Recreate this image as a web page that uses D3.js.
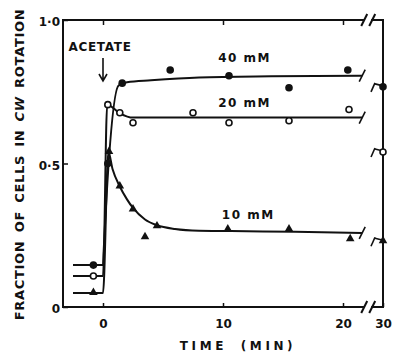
<!DOCTYPE html>
<html>
<head>
<meta charset="utf-8">
<script src="https://cdn.jsdelivr.net/npm/d3@7"></script>
<style>
  body { margin: 0; background: #fff; }
  svg { display: block; }
  text { font-family: "DejaVu Sans", "Liberation Sans", sans-serif; font-weight: bold; fill: #111; }
  .frame, .mark, .fit { stroke: #111; fill: none; }
</style>
</head>
<body>
<svg id="chart"></svg>
<script>
// values (time in min, fraction of cells in CW rotation)
const times40 = [-0.8, 0.4, 1.6, 5.6, 10.5, 15.5, 20.4]
const vals40 = [0.146, 0.50, 0.78, 0.826, 0.806, 0.764, 0.826]
const times20 = [-0.8, 0.4, 1.4, 2.5, 7.5, 10.5, 15.5, 20.5]
const vals20 = [0.108, 0.705, 0.677, 0.642, 0.677, 0.642, 0.649, 0.688]
const times10 = [-0.8, 0.5, 1.4, 2.5, 3.5, 4.5, 10.4, 15.5, 20.6]
const vals10 = [0.049, 0.54, 0.42, 0.34, 0.243, 0.281, 0.27, 0.27, 0.236]
// the single reading at 30 min, past the axis break (40, 20, 10 mM)
const vals30 = [0.767, 0.54, 0.229]

// hand drawn curves through the points
const curve40 = [[-2.5, 0.146], [0, 0.146], [0.05, 0.19], [1.3, 0.772], [2, 0.783], [4, 0.79], [8, 0.80], [14, 0.804], [21.6, 0.806]]
const curve20 = [[-2.5, 0.108], [0, 0.108], [0.35, 0.705], [1.4, 0.675], [2.5, 0.66], [6, 0.66], [21.6, 0.66]]
const curve10 = [[-2.5, 0.049], [0, 0.049], [0.45, 0.54], [0.8, 0.48], [1.4, 0.42], [2, 0.375], [2.5, 0.345], [3.5, 0.305],
  [4.5, 0.285], [6, 0.272], [8, 0.266], [12, 0.264], [16, 0.262], [21.6, 0.258]]

const seriesNames = ["40 mM", "20 mM", "10 mM"]
const xTicks = [0, 10, 20, 30]
const yTicks = [0, 0.5, 1]

const width = 394, height = 353
const margin = { left: 63, top: 20, right: 11, bottom: 46 }
const plotRight = width - margin.right
const plotBottom = height - margin.bottom
const breakAt = 21.6 // time where the x axis is cut

const svg = d3.select("#chart").attr("width", width).attr("height", height)

// polylinear: everything up to the break is to scale, 30 min sits on the right edge
const x = d3.scaleLinear()
  .domain([-10 / 3, breakAt, 30])
  .range([margin.left, margin.left + (breakAt + 10 / 3) * 12, plotRight])
const y = d3.scaleLinear().domain([0, 1]).range([plotBottom, margin.top])

const xb = x(breakAt)

// frame, with the // breaks on top and bottom
const frame = svg.append("g").attr("class", "frame").attr("stroke-width", 2)
frame.append("line").attr("x1", margin.left).attr("x2", margin.left).attr("y1", margin.top - 1).attr("y2", plotBottom + 1)
frame.append("line").attr("x1", plotRight).attr("x2", plotRight).attr("y1", margin.top - 1).attr("y2", plotBottom + 1)
for (let yy of [margin.top, plotBottom]) {
  frame.append("line").attr("x1", margin.left).attr("x2", xb + 2).attr("y1", yy).attr("y2", yy)
  frame.append("line").attr("x1", xb + 9).attr("x2", plotRight).attr("y1", yy).attr("y2", yy)
  for (let sx of [xb + 2, xb + 10]) {
    frame.append("line").attr("x1", sx - 3).attr("y1", yy + 6).attr("x2", sx + 3).attr("y2", yy - 6)
  }
}

// axes, ticks point inward
const bottomAxis = svg.append("g")
  .attr("transform", `translate(0,${plotBottom})`)
  .call(d3.axisBottom(x).tickValues(xTicks).tickSize(-4).tickPadding(12).tickFormat(d3.format("d")))
const topAxis = svg.append("g")
  .attr("transform", `translate(0,${margin.top})`)
  .call(d3.axisTop(x).tickValues([0, 10, 20]).tickSize(-5).tickFormat(""))
const leftAxis = svg.append("g")
  .attr("transform", `translate(${margin.left},0)`)
  .call(d3.axisLeft(y).tickValues(yTicks).tickSize(-5).tickPadding(3)
    .tickFormat(d => d === 0 ? "0" : d3.format(".1f")(d).replace(".", "·")))
for (let g of [bottomAxis, topAxis, leftAxis]) {
  g.select(".domain").remove()
  g.selectAll("line").attr("stroke", "#111").attr("stroke-width", 1.5)
  g.selectAll("text").attr("font-size", 12).attr("font-family", null).attr("fill", "#111")
}
leftAxis.selectAll("text").attr("transform", "translate(0,2)")

// axis titles
svg.append("text")
  .attr("x", 238).attr("y", 350)
  .attr("text-anchor", "middle").attr("font-size", 12).attr("letter-spacing", 3.6).attr("word-spacing", 6)
  .text("TIME (MIN)")
const yTitle = svg.append("text")
  .attr("transform", `translate(19,${(margin.top + plotBottom) / 2 + 1}) rotate(-90)`)
  .attr("text-anchor", "middle").attr("dominant-baseline", "central")
  .attr("font-size", 13).attr("letter-spacing", 0.7).attr("word-spacing", 3)
yTitle.append("tspan").text("FRACTION OF CELLS IN ")
yTitle.append("tspan").attr("font-style", "italic").text("CW")
yTitle.append("tspan").text(" ROTATION")

// acetate arrow at t = 0
svg.append("text").attr("x", 100).attr("y", 51).attr("text-anchor", "middle")
  .attr("font-size", 12).attr("letter-spacing", 0.7).text("ACETATE")
svg.append("path").attr("class", "mark").attr("stroke-width", 1.6)
  .attr("d", `M${x(0)},58V81M${x(0) - 4},74L${x(0)},81L${x(0) + 4},74`)

// fitted curves
const line = d3.line().x(d => x(d[0])).y(d => y(d[1])).curve(d3.curveMonotoneX)
const curves = [curve40, curve20, curve10]
svg.append("g").selectAll("path").data(curves).enter().append("path")
  .attr("class", "fit").attr("stroke-width", 2).attr("d", line)

// slash where each curve stops, and slash + stub in front of the 30 min point
const ends = curves.map(c => c[c.length - 1][1])
const slashes = svg.append("g").attr("class", "mark").attr("stroke-width", 1.6)
ends.forEach(v => {
  slashes.append("line").attr("x1", xb - 3).attr("y1", y(v) + 6).attr("x2", xb + 3).attr("y2", y(v) - 6)
})
vals30.forEach(v => {
  slashes.append("line").attr("x1", plotRight - 12).attr("y1", y(v) + 5).attr("x2", plotRight - 8).attr("y2", y(v) - 4)
  slashes.append("line").attr("x1", plotRight - 8).attr("y1", y(v) - 3).attr("x2", plotRight).attr("y2", y(v) - 1)
})

// symbols
const pts40 = times40.map((t, i) => [t, vals40[i]]).concat([[30, vals30[0]]])
const pts20 = times20.map((t, i) => [t, vals20[i]]).concat([[30, vals30[1]]])
const pts10 = times10.map((t, i) => [t, vals10[i]]).concat([[30, vals30[2]]])

svg.append("g").selectAll("circle").data(pts40).enter().append("circle")
  .attr("cx", d => x(d[0])).attr("cy", d => y(d[1])).attr("r", 3.8).attr("fill", "#111")
svg.append("g").selectAll("circle").data(pts20).enter().append("circle")
  .attr("cx", d => x(d[0])).attr("cy", d => y(d[1])).attr("r", 3).attr("fill", "#fff")
  .attr("stroke", "#111").attr("stroke-width", 1.6)
const tri = d3.symbol().type(d3.symbolTriangle).size(32)
svg.append("g").selectAll("path").data(pts10).enter().append("path")
  .attr("transform", d => `translate(${x(d[0])},${y(d[1]) - 0.5})`).attr("d", tri).attr("fill", "#111")

// series labels
const labelPos = [[11.8, 0.855], [11.8, 0.697], [12.1, 0.308]]
svg.append("g").selectAll("text").data(seriesNames).enter().append("text")
  .attr("x", (d, i) => x(labelPos[i][0])).attr("y", (d, i) => y(labelPos[i][1]))
  .attr("text-anchor", "middle").attr("font-size", 12).attr("letter-spacing", 1.5)
  .text(d => d)
</script>
</body>
</html>
